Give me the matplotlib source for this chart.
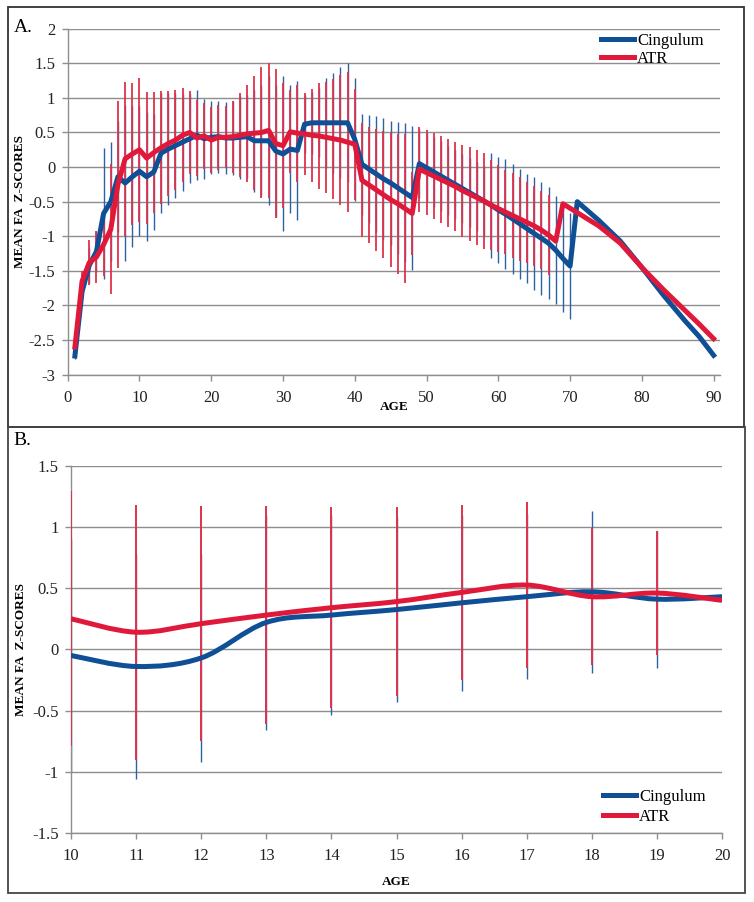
import numpy as np
import matplotlib
matplotlib.use("Agg")
import matplotlib.pyplot as plt
from matplotlib.path import Path
from matplotlib.patches import PathPatch, Rectangle
from matplotlib.lines import Line2D

plt.rcParams["font.family"] = ["Liberation Serif", "DejaVu Serif"]
plt.rcParams["axes.unicode_minus"] = False

# ---- panel A data (age 1..90) ----
ages_blue_a = list(range(1, 72)) + [74, 77, 80, 83, 86, 88, 90]
cingulum_a = [
    -2.73, -1.8, -1.42, -1.22, -0.67, -0.5, -0.14, -0.23, -0.14, -0.06,
    -0.14, -0.07, 0.2, 0.26, 0.31, 0.36, 0.41, 0.46, 0.41, 0.43,
    0.44, 0.42, 0.42, 0.43, 0.44, 0.38, 0.38, 0.38, 0.23, 0.19,
    0.26, 0.24, 0.62, 0.64, 0.64, 0.64, 0.64, 0.64, 0.64, 0.4,
    0.04, -0.03, -0.1, -0.17, -0.23, -0.3, -0.37, -0.44, 0.05, -0.01,
    -0.07, -0.13, -0.19, -0.25, -0.31, -0.37, -0.43, -0.49, -0.55, -0.62,
    -0.68, -0.75, -0.82, -0.89, -0.96, -1.03, -1.1, -1.2, -1.32, -1.43,
    -0.5, -0.77, -1.07, -1.45, -1.85, -2.22, -2.45, -2.72,
]
ages_red_a = list(range(1, 70)) + [74, 77, 80, 83, 86, 88, 90]
atr_a = [
    -2.6, -1.65, -1.38, -1.3, -1.12, -0.9, -0.25, 0.12, 0.19, 0.25,
    0.13, 0.21, 0.28, 0.34, 0.39, 0.46, 0.5, 0.42, 0.45, 0.39,
    0.43, 0.43, 0.44, 0.46, 0.48, 0.49, 0.5, 0.53, 0.34, 0.31,
    0.51, 0.49, 0.48, 0.46, 0.45, 0.43, 0.41, 0.39, 0.36, 0.33,
    -0.19, -0.26, -0.33, -0.4, -0.47, -0.53, -0.6, -0.67, -0.03, -0.08,
    -0.13, -0.18, -0.23, -0.28, -0.34, -0.39, -0.44, -0.49, -0.55, -0.6,
    -0.65, -0.7, -0.75, -0.8, -0.85, -0.91, -0.98, -1.07, -0.53,
    -0.85, -1.1, -1.45, -1.77, -2.07, -2.27, -2.48,
]
# standard deviations (error bars), cingulum ages 1..70, ATR ages 1..67
sd_cingulum_a = [
    0.05, 0.1, 0.25, 0.3, 0.95, 0.86, 0.8, 1.12, 1.02, 0.94,
    0.93, 0.84, 0.87, 0.81, 0.76, 0.7, 0.64, 0.65, 0.58, 0.53,
    0.52, 0.52, 0.54, 0.6, 0.6, 0.74, 0.8, 0.93, 0.95, 1.12,
    0.92, 1.0, 0.42, 0.45, 0.5, 0.65, 0.72, 0.8, 0.86, 0.89,
    0.73, 0.78, 0.84, 0.88, 0.9, 0.95, 1.0, 1.04, 0.5, 0.5,
    0.5, 0.5, 0.5, 0.5, 0.5, 0.5, 0.5, 0.5, 0.76, 0.76,
    0.79, 0.79, 0.79, 0.79, 0.82, 0.82, 0.81, 0.78, 0.77, 0.76,
]
sd_atr_a = [
    0.05, 0.15, 0.32, 0.37, 0.45, 0.94, 1.21, 1.11, 1.02, 1.04,
    0.95, 0.87, 0.82, 0.76, 0.72, 0.68, 0.6, 0.55, 0.48, 0.48,
    0.47, 0.45, 0.52, 0.61, 0.7, 0.82, 0.94, 0.97, 1.08, 0.9,
    0.6, 0.7, 0.59, 0.67, 0.76, 0.8, 0.87, 0.94, 1.01, 0.8,
    0.82, 0.84, 0.88, 0.92, 0.97, 1.01, 1.08, 0.6, 0.615, 0.61,
    0.625, 0.635, 0.64, 0.64, 0.665, 0.675, 0.68, 0.69, 0.65, 0.63,
    0.61, 0.61, 0.61, 0.58, 0.58, 0.56, 0.58,
]

# ---- panel B data (age 10..20) ----
ages_b = list(range(10, 21))
cingulum_b = [-0.05, -0.14, -0.07, 0.22, 0.28, 0.325, 0.38, 0.43, 0.47, 0.41, 0.43]
atr_b = [0.25, 0.14, 0.21, 0.28, 0.34, 0.39, 0.465, 0.525, 0.43, 0.46, 0.4]
sd_cingulum_b = [0.95, 0.92, 0.85, 0.88, 0.82, 0.755, 0.72, 0.675, 0.66, 0.56]
sd_atr_b = [1.04, 1.04, 0.96, 0.89, 0.82, 0.775, 0.715, 0.68, 0.56, 0.51]

BLUE = "#0f4f96"
RED = "#e0193a"
BLUE_BAR = "#2a62a3"
RED_BAR = "#e0324c"
GRID = "#8e8e8e"


def smooth_path(x, y):
    # excel-like smoothed line: cubic bezier through every point
    pts = np.column_stack([x, y]).astype(float)
    verts = [pts[0]]
    codes = [Path.MOVETO]
    n = len(pts)
    for i in range(n - 1):
        p0 = pts[i - 1] if i > 0 else pts[i]
        p1 = pts[i]
        p2 = pts[i + 1]
        p3 = pts[i + 2] if i + 2 < n else pts[i + 1]
        verts += [p1 + (p2 - p0) / 6, p2 - (p3 - p1) / 6, p2]
        codes += [Path.CURVE4] * 3
    return Path(verts, codes)


def error_bars(ax, x, mean, sd, color, lw, z):
    n = len(sd)
    x = np.array(x[:n])
    m = np.array(mean[:n])
    s = np.array(sd)
    ax.vlines(x, m - s, m + s, colors=color, lw=lw, zorder=z)


def style_axes(ax, yticks):
    ax.set_yticks(yticks)
    ax.set_yticklabels([f"{v:g}" for v in yticks])
    for s in ["top", "right"]:
        ax.spines[s].set_visible(False)
    for s in ["left", "bottom"]:
        ax.spines[s].set_color(GRID)
        ax.spines[s].set_linewidth(1)
    ax.yaxis.grid(True, color=GRID, lw=1)
    ax.set_axisbelow(True)
    ax.tick_params(axis="both", colors=GRID, length=4, width=1, labelsize=12,
                   labelcolor="#222222")
    ax.tick_params(axis="y", pad=5)
    ax.tick_params(axis="x", pad=7)


fig = plt.figure(figsize=(7.54, 9.02), dpi=100)
handles = [Line2D([], [], color=BLUE, lw=3.6), Line2D([], [], color=RED, lw=3.6)]

# ---------- panel A ----------
ax1 = fig.add_axes([0.0898, 0.5846, 0.8652, 0.3836])
error_bars(ax1, ages_blue_a, cingulum_a, sd_cingulum_a, BLUE_BAR, 1.0, 2)
error_bars(ax1, ages_red_a, atr_a, sd_atr_a, RED_BAR, 1.3, 3)
ax1.plot(ages_blue_a, cingulum_a, color=BLUE, lw=3.6, solid_joinstyle="round", zorder=4)
ax1.plot(ages_red_a, atr_a, color=RED, lw=3.6, solid_joinstyle="round", zorder=5)
ax1.set_xlim(0, 90.9)
ax1.set_ylim(-3, 2)
ax1.set_xticks(range(0, 91, 10))
style_axes(ax1, np.arange(-3, 2.01, 0.5))
ax1.set_xlabel("AGE", fontsize=9.5, fontweight="bold")
ax1.xaxis.set_label_coords(0.5, -0.076)
ax1.set_ylabel("MEAN FA  Z-SCORES", fontsize=9.5, fontweight="bold")
ax1.yaxis.set_label_coords(-0.064, 0.5)
ax1.legend(handles, ["Cingulum", "ATR"], loc="upper right", frameon=False,
           fontsize=12, handlelength=2.0, handletextpad=0.15, labelspacing=0.12,
           bbox_to_anchor=(0.985, 1.008), borderaxespad=0)
fig.text(0.018, 0.97, "A.", fontsize=14, ha="left", va="center")

# ---------- panel B ----------
ax2 = fig.add_axes([0.0942, 0.0765, 0.8634, 0.4072])
error_bars(ax2, ages_b, cingulum_b, sd_cingulum_b, BLUE_BAR, 1.0, 2)
error_bars(ax2, ages_b, atr_b, sd_atr_b, RED_BAR, 1.4, 3)
ax2.add_patch(PathPatch(smooth_path(ages_b, cingulum_b), fill=False, edgecolor=BLUE,
                        lw=3.6, capstyle="butt", zorder=4))
ax2.add_patch(PathPatch(smooth_path(ages_b, atr_b), fill=False, edgecolor=RED,
                        lw=3.6, capstyle="butt", zorder=5))
ax2.set_xlim(10, 20)
ax2.set_ylim(-1.5, 1.5)
ax2.set_xticks(range(10, 21))
style_axes(ax2, np.arange(-1.5, 1.51, 0.5))
ax2.set_xlabel("AGE", fontsize=9.5, fontweight="bold")
ax2.xaxis.set_label_coords(0.5, -0.117)
ax2.set_ylabel("MEAN FA  Z-SCORES", fontsize=9.5, fontweight="bold")
ax2.yaxis.set_label_coords(-0.067, 0.5)
ax2.legend(handles, ["Cingulum", "ATR"], loc="lower right", frameon=False,
           fontsize=12, handlelength=2.0, handletextpad=0.15, labelspacing=0.25,
           bbox_to_anchor=(0.985, 0.004), borderaxespad=0)
fig.text(0.018, 0.512, "B.", fontsize=14, ha="left", va="center")

# outer frames round each panel
fig.add_artist(Rectangle((0.0106, 0.527), 0.976, 0.4647, transform=fig.transFigure,
                         fill=False, edgecolor="#333333", lw=1.3))
fig.add_artist(Rectangle((0.0106, 0.0103), 0.978, 0.5167, transform=fig.transFigure,
                         fill=False, edgecolor="#444444", lw=1.3))

fig.savefig("out.png", dpi=100)
